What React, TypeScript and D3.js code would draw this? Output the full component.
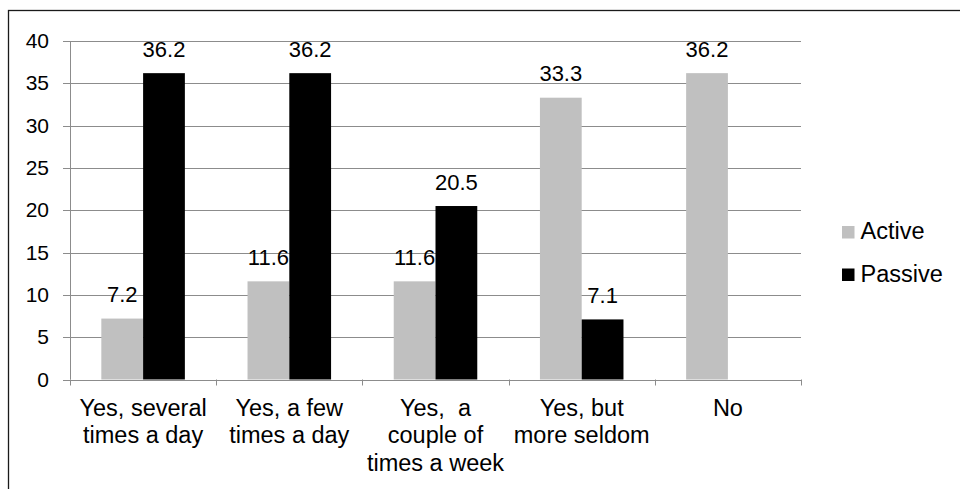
import React, { useEffect, useRef } from 'react';
import * as d3 from 'd3';

const categories = [
  'Yes, several\ntimes a day',
  'Yes, a few\ntimes a day',
  'Yes,  a\ncouple of\ntimes a week',
  'Yes, but\nmore seldom',
  'No',
];
const seriesNames = ['Active', 'Passive'];
const activeValues = [7.2, 11.6, 11.6, 33.3, 36.2];
const passiveValues: (number | null)[] = [36.2, 36.2, 20.5, 7.1, null];
const yTicks = [0, 5, 10, 15, 20, 25, 30, 35, 40];
const seriesColors = ['#c0c0c0', '#000000'];

const FONT = '"Liberation Sans", Arial, sans-serif';

export default function App() {
  const svgRef = useRef<SVGSVGElement>(null);

  useEffect(() => {
    if (!svgRef.current) return;
    const width = 960;
    const height = 489;
    const plot = { left: 70, right: 801, top: 41, bottom: 379.5 };

    const svg = d3.select(svgRef.current).attr('viewBox', [0, 0, width, height]);
    svg.selectAll('*').remove();

    svg.append('rect').attr('width', width).attr('height', height).attr('fill', '#fff');
    // outer chart frame (runs off the right/bottom edge)
    svg.append('rect')
      .attr('x', 8.5).attr('y', 10.5)
      .attr('width', 1000).attr('height', 1000)
      .attr('fill', 'none').attr('stroke', '#1a1a1a').attr('stroke-width', 1.3);

    const x = d3.scaleBand<string>().domain(categories).range([plot.left, plot.right]).padding(0);
    const xs = d3.scaleBand<string>().domain(seriesNames).range([0, x.bandwidth()])
      .paddingInner(0).paddingOuter(0.75);
    const y = d3.scaleLinear().domain([0, 40]).range([plot.bottom, plot.top]);

    // gridlines + y ticks
    svg.append('g').selectAll('line')
      .data(yTicks)
      .enter().append('line')
      .attr('x1', plot.left - 7).attr('x2', plot.right)
      .attr('y1', d => Math.round(y(d)) + 0.5).attr('y2', d => Math.round(y(d)) + 0.5)
      .attr('stroke', '#8c8c8c').attr('stroke-width', 1);

    svg.append('g').selectAll('text')
      .data(yTicks)
      .enter().append('text')
      .attr('x', 49).attr('y', d => y(d) + 7)
      .attr('text-anchor', 'end')
      .attr('font-family', FONT).attr('font-size', 21).attr('fill', '#000')
      .text(d => d);

    // y axis line
    svg.append('line')
      .attr('x1', plot.left + 0.5).attr('x2', plot.left + 0.5)
      .attr('y1', plot.top).attr('y2', plot.bottom)
      .attr('stroke', '#8c8c8c');

    // x tick marks
    const bounds = categories.map(c => x(c)!).concat([plot.right]);
    svg.append('g').selectAll('line')
      .data(bounds)
      .enter().append('line')
      .attr('x1', d => Math.round(d) + 0.5).attr('x2', d => Math.round(d) + 0.5)
      .attr('y1', plot.bottom).attr('y2', plot.bottom + 6)
      .attr('stroke', '#8c8c8c');

    const drawSeries = (vals: (number | null)[], si: number) => {
      const name = seriesNames[si];
      const rows = categories.map((c, i) => ({ c, v: vals[i] })).filter(d => d.v != null) as { c: string; v: number }[];
      svg.append('g').selectAll('rect')
        .data(rows)
        .enter().append('rect')
        .attr('x', d => x(d.c)! + xs(name)!)
        .attr('width', xs.bandwidth())
        .attr('y', d => y(d.v))
        .attr('height', d => plot.bottom - y(d.v))
        .attr('fill', seriesColors[si]);
      svg.append('g').selectAll('text')
        .data(rows)
        .enter().append('text')
        .attr('x', d => x(d.c)! + xs(name)! + xs.bandwidth() / 2)
        .attr('y', d => y(d.v) - 16.5)
        .attr('text-anchor', 'middle')
        .attr('font-family', FONT).attr('font-size', 22).attr('fill', '#000')
        .text(d => d.v.toFixed(1));
    };
    drawSeries(activeValues, 0);
    drawSeries(passiveValues, 1);

    // category labels
    const cat = svg.append('g').selectAll('text')
      .data(categories)
      .enter().append('text')
      .attr('x', d => x(d)! + x.bandwidth() / 2)
      .attr('y', 415.5)
      .attr('text-anchor', 'middle')
      .attr('font-family', FONT).attr('font-size', 23.5).attr('fill', '#000')
      .attr('xml:space', 'preserve')
      .style('white-space', 'pre');
    cat.selectAll('tspan')
      .data(d => d.split('\n'))
      .enter().append('tspan')
      .attr('x', function () { return (this.parentNode as SVGTextElement).getAttribute('x'); })
      .attr('dy', (_, i) => (i === 0 ? 0 : 27.5))
      .text(d => d);

    // legend
    const legend = svg.append('g').selectAll('g')
      .data(seriesNames)
      .enter().append('g')
      .attr('transform', (_, i) => `translate(842,${226 + i * 42.5})`);
    legend.append('rect')
      .attr('width', 12.5).attr('height', 12.5)
      .attr('fill', (_, i) => seriesColors[i]);
    legend.append('text')
      .attr('x', 18.5).attr('y', 13)
      .attr('font-family', FONT).attr('font-size', 23.5).attr('fill', '#000')
      .text(d => d);
  }, []);

  return (
    <svg
      ref={svgRef}
      width={960}
      height={489}
      style={{ position: 'absolute', left: 0, top: 0, display: 'block' }}
    />
  );
}
